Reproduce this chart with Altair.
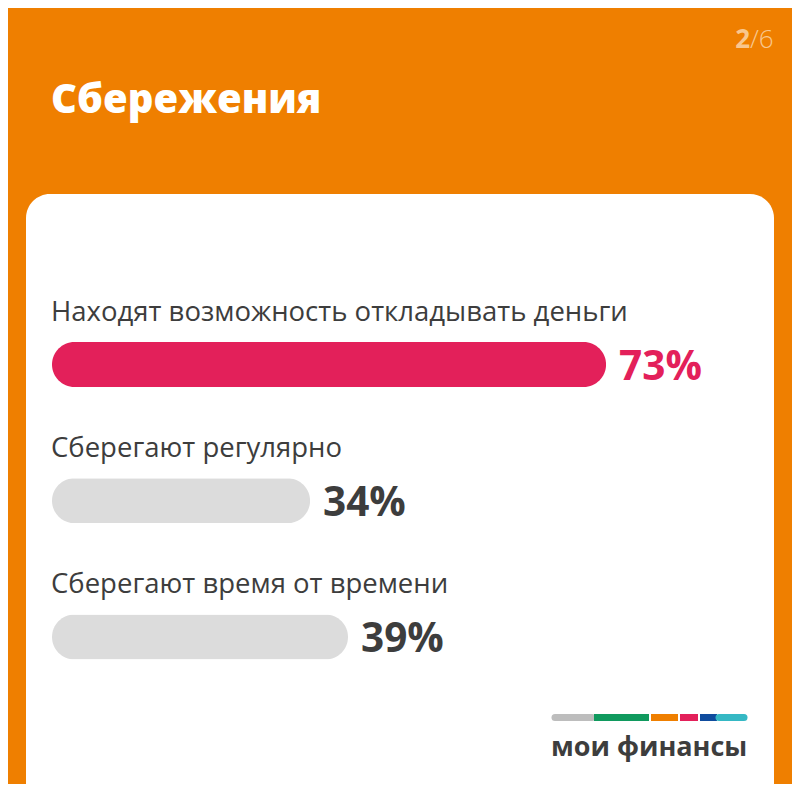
import altair as alt
import pandas as pd

# ---- data ----
labels = [
    "Находят возможность откладывать деньги",
    "Сберегают регулярно",
    "Сберегают время от времени",
]
values = [73, 34, 39]
highlight = ["yes", "no", "no"]
order = [0, 1, 2]

title_text = "Сбережения"
page_num = "2"
page_total = "/6"
logo_text = "мои финансы"

# ---- style ----
OFF = 8  # page margin
ORANGE = "#EF7F00"
CRIMSON = "#E3205A"
GREY_BAR = "#DCDCDC"
DARK = "#3D3D3D"
FONT = "Open Sans"

df = pd.DataFrame({"label": labels, "value": values, "hl": highlight, "idx": order})
df["pct"] = df["value"].astype(str) + "%"

one = pd.DataFrame({"a": [0]})

xscale = alt.Scale(domain=[0, 100], range=[52 - OFF, 52 - OFF + 759], padding=0, nice=False)
yscale = alt.Scale(domain=[0, 2], range=[364.5 - OFF, 637 - OFF], padding=0, nice=False)

card = alt.Chart(one).mark_rect(
    fill="white", cornerRadius=24
).encode(
    x=alt.value(26 - OFF), x2=alt.value(774 - OFF),
    y=alt.value(194 - OFF), y2=alt.value(1000),
)

title = alt.Chart(one).mark_text(
    text=title_text, font=FONT, fontSize=40, fontWeight=800,
    color="white", align="left", baseline="alphabetic",
).encode(x=alt.value(51 - OFF), y=alt.value(113 - OFF))

pg1 = alt.Chart(one).mark_text(
    text=page_num, font=FONT, fontSize=26, fontWeight=700,
    color="#F8C78F", align="right", baseline="alphabetic",
).encode(x=alt.value(750 - OFF), y=alt.value(48 - OFF))
pg2 = alt.Chart(one).mark_text(
    text=page_total, font=FONT, fontSize=26, fontWeight=300,
    color="#F8C78F", align="left", baseline="alphabetic",
).encode(x=alt.value(750 - OFF), y=alt.value(48 - OFF))

bars = alt.Chart(df).mark_bar(
    orient="horizontal", height=45, cornerRadius=22.5
).encode(
    x=alt.X("value:Q", scale=xscale, axis=None),
    y=alt.Y("idx:Q", scale=yscale, axis=None),
    color=alt.condition(alt.datum.hl == "yes", alt.value(CRIMSON), alt.value(GREY_BAR)),
)

lab = alt.Chart(df).mark_text(
    font=FONT, fontSize=27.5, color=DARK, align="left", baseline="alphabetic", dy=-44,
).encode(
    x=alt.value(51 - OFF),
    y=alt.Y("idx:Q", scale=yscale, axis=None),
    text="label:N",
)

pct = alt.Chart(df).mark_text(
    font=FONT, fontSize=40.5, fontWeight=700, align="left", baseline="alphabetic", dx=13, dy=15,
).encode(
    x=alt.X("value:Q", scale=xscale, axis=None),
    y=alt.Y("idx:Q", scale=yscale, axis=None),
    text="pct:N",
    color=alt.condition(alt.datum.hl == "yes", alt.value(CRIMSON), alt.value(DARK)),
)

# logo stripe segments (decoration)
segs = [("#BDBDBD", 552, 592), ("#109A5E", 594, 649), ("#EF7F00", 651, 678),
        ("#E3205A", 680, 698), ("#0F4C9E", 700, 717), ("#35B8C4", 719, 747)]
seg_layers = [
    alt.Chart(one).mark_rule(color=c, strokeWidth=7, strokeCap="round" if i in (0, len(segs) - 1) else "butt").encode(
        x=alt.value(a - OFF + (3 if i == 0 else 0)), x2=alt.value(b - OFF - (3 if i == len(segs) - 1 else 0)),
        y=alt.value(717.5 - OFF),
    )
    for i, (c, a, b) in enumerate(segs)
]

logo = alt.Chart(one).mark_text(
    text=logo_text, font=FONT, fontSize=27, fontWeight=700,
    color=DARK, align="left", baseline="alphabetic",
).encode(x=alt.value(551 - OFF), y=alt.value(756 - OFF))

chart = alt.layer(card, title, pg1, pg2, bars, lab, pct, *seg_layers, logo).properties(
    width=784, height=776,
    autosize=alt.AutoSizeParams(type="none"),
    padding=0,
    background=ORANGE,
).configure_view(stroke=None)

chart.save("out.html", embed_options={"renderer": "svg", "actions": False})
